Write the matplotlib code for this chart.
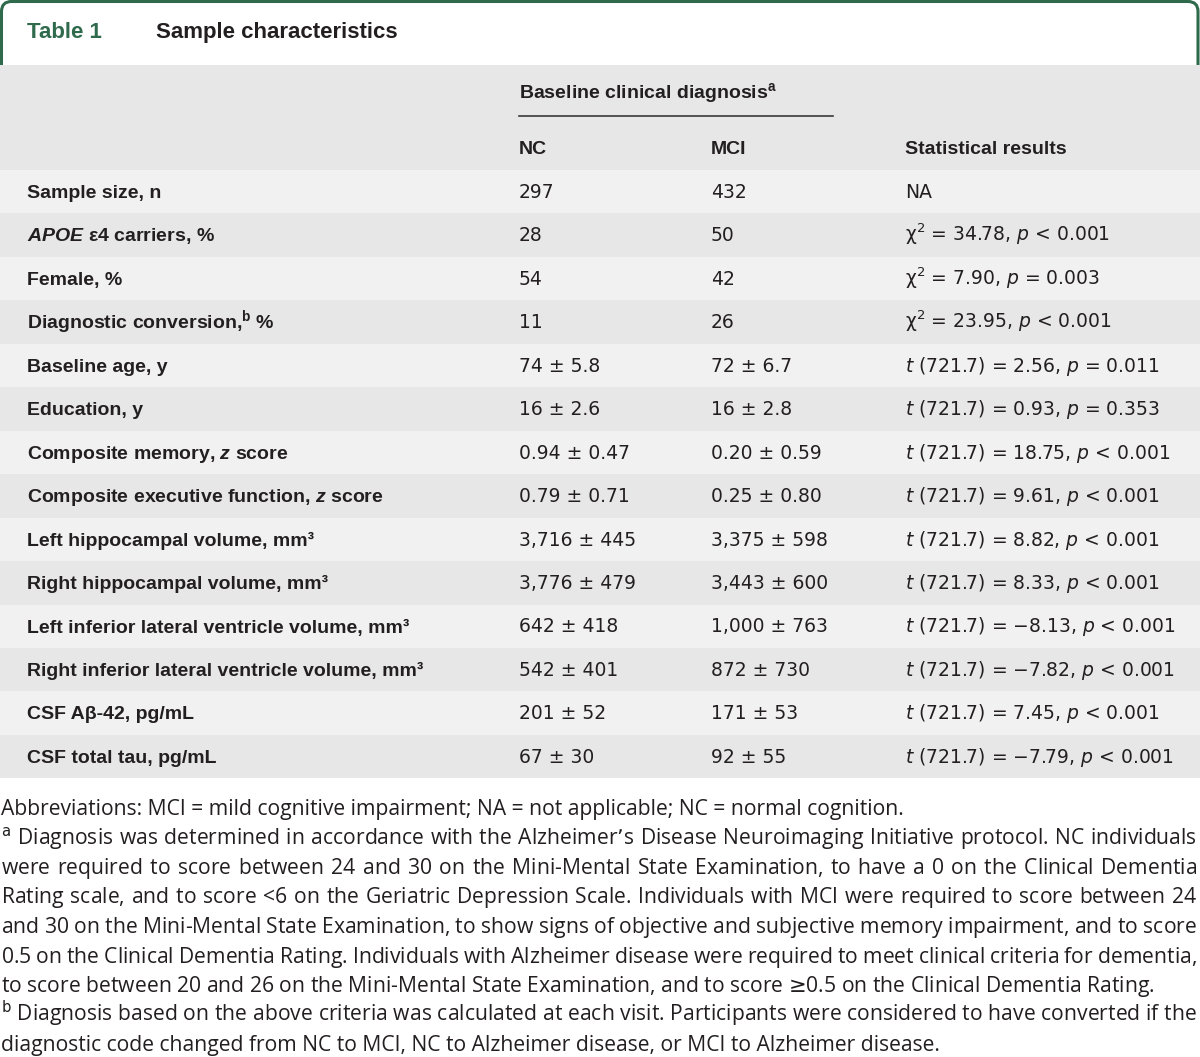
import matplotlib
matplotlib.use("Agg")
import matplotlib.pyplot as plt
from matplotlib.patches import Rectangle, FancyBboxPatch

# ---- table content (markup: *italic*, ^superscript^) ----
title_num = "Table 1"
title_text = "Sample characteristics"
group_header = "Baseline clinical diagnosis^a^"
col_headers = ["NC", "MCI", "Statistical results"]

row_labels = [
    "Sample size, n",
    "*APOE* ε4 carriers, %",
    "Female, %",
    "Diagnostic conversion,^b^ %",
    "Baseline age, y",
    "Education, y",
    "Composite memory, *z* score",
    "Composite executive function, *z* score",
    "Left hippocampal volume, mm³",
    "Right hippocampal volume, mm³",
    "Left inferior lateral ventricle volume, mm³",
    "Right inferior lateral ventricle volume, mm³",
    "CSF Aβ-42, pg/mL",
    "CSF total tau, pg/mL",
]
nc_values = ["297", "28", "54", "11", "74 ± 5.8", "16 ± 2.6", "0.94 ± 0.47",
             "0.79 ± 0.71", "3,716 ± 445", "3,776 ± 479", "642 ± 418",
             "542 ± 401", "201 ± 52", "67 ± 30"]
mci_values = ["432", "50", "42", "26", "72 ± 6.7", "16 ± 2.8", "0.20 ± 0.59",
              "0.25 ± 0.80", "3,375 ± 598", "3,443 ± 600", "1,000 ± 763",
              "872 ± 730", "171 ± 53", "92 ± 55"]
stat_results = [
    "NA",
    "χ^2^ = 34.78, *p* < 0.001",
    "χ^2^ = 7.90, *p* = 0.003",
    "χ^2^ = 23.95, *p* < 0.001",
    "*t* (721.7) = 2.56, *p* = 0.011",
    "*t* (721.7) = 0.93, *p* = 0.353",
    "*t* (721.7) = 18.75, *p* < 0.001",
    "*t* (721.7) = 9.61, *p* < 0.001",
    "*t* (721.7) = 8.82, *p* < 0.001",
    "*t* (721.7) = 8.33, *p* < 0.001",
    "*t* (721.7) = −8.13, *p* < 0.001",
    "*t* (721.7) = −7.82, *p* < 0.001",
    "*t* (721.7) = 7.45, *p* < 0.001",
    "*t* (721.7) = −7.79, *p* < 0.001",
]
footnote_lines = [
    "Abbreviations: MCI = mild cognitive impairment; NA = not applicable; NC = normal cognition.",
    "^a^ Diagnosis was determined in accordance with the Alzheimer’s Disease Neuroimaging Initiative protocol. NC individuals",
    "were required to score between 24 and 30 on the Mini-Mental State Examination, to have a 0 on the Clinical Dementia",
    "Rating scale, and to score <6 on the Geriatric Depression Scale. Individuals with MCI were required to score between 24",
    "and 30 on the Mini-Mental State Examination, to show signs of objective and subjective memory impairment, and to score",
    "0.5 on the Clinical Dementia Rating. Individuals with Alzheimer disease were required to meet clinical criteria for dementia,",
    "to score between 20 and 26 on the Mini-Mental State Examination, and to score ≥0.5 on the Clinical Dementia Rating.",
    "^b^ Diagnosis based on the above criteria was calculated at each visit. Participants were considered to have converted if the",
    "diagnostic code changed from NC to MCI, NC to Alzheimer disease, or MCI to Alzheimer disease.",
]
footnote_justify = [False, True, True, True, True, True, False, True, False]

# ---- styles ----
W, H = 1200, 1057
GREEN = "#2e6a4b"
INK = "#231f20"
DARK_ROW = "#e6e7e6"
LIGHT_ROW = "#f1f1f1"
LABEL_FONT = "Liberation Sans"
VALUE_FONT = "DejaVu Sans"
NOTE_FONT = "Open Sans"

# math pieces inside the bold labels use Liberation Sans too
plt.rcParams["mathtext.rm"] = "Liberation Sans:bold"
plt.rcParams["mathtext.it"] = "Liberation Sans:italic:bold"
plt.rcParams["mathtext.bf"] = "Liberation Sans:bold"
plt.rcParams["mathtext.sf"] = "Liberation Sans:bold"
plt.rcParams["mathtext.cal"] = "Liberation Sans:bold"
plt.rcParams["mathtext.tt"] = "Liberation Sans:bold"

fig = plt.figure(figsize=(W / 100, H / 100), dpi=100)
ax = fig.add_axes([0, 0, 1, 1])
ax.set_xlim(0, W)
ax.set_ylim(H, 0)
ax.axis("off")
renderer = fig.canvas.get_renderer()


def parse(s):
    out, style, buf = [], None, ""
    for ch in s:
        if ch in "*^":
            if buf:
                out.append((buf, style))
                buf = ""
            style = None if style == ch else ch
        else:
            buf += ch
    if buf:
        out.append((buf, style))
    return out


def to_math(s):
    out = ""
    for txt, st in parse(s):
        if st == "*":
            out += "$%s$" % txt
        elif st == "^":
            out += r"$^{\mathrm{%s}}$" % txt
        else:
            # relation spacing around \geq is cancelled by the kerns
            out += txt.replace("≥", r"$\hspace{-0.2}\geq\hspace{-0.2}$")
    return out.replace("$$", "")


def cell(x, y, s, font, size, weight="normal", color=INK, mathfam="custom"):
    return ax.text(x, y, to_math(s), family=font, fontsize=size,
                   weight=weight, color=color, va="baseline", ha="left",
                   math_fontfamily=mathfam)


def width_of(s, font, size, mathfam):
    t = ax.text(0, 0, s, family=font, fontsize=size, va="baseline",
                math_fontfamily=mathfam)
    w = t.get_window_extent(renderer).width
    t.remove()
    return w


def justified(x, y, s, font, size, right, mathfam="dejavusans"):
    # one text per line; the word gaps are \hspace kerns sized to fill
    words = [to_math(w) for w in s.split(" ")]
    unit = (width_of(r"x$\hspace{20}$x", font, size, mathfam)
            - width_of(r"x$\hspace{10}$x", font, size, mathfam)) / 10
    joined0 = r"$\hspace{0}$".join(words).replace("$$", "")
    w0 = width_of(joined0, font, size, mathfam)
    g = (right - x - w0) / ((len(words) - 1) * unit)
    line = (r"$\hspace{%.5f}$" % g).join(words).replace("$$", "")
    return ax.text(x, y, line, family=font, fontsize=size, color=INK,
                   va="baseline", ha="left", math_fontfamily=mathfam)


# ---- title tab ----
ax.add_patch(FancyBboxPatch((1.5, 1.5), W - 3.5, 120,
                            boxstyle="round,pad=0,rounding_size=10",
                            fc="white", ec=GREEN, lw=2.2, zorder=0))
cell(27, 38, title_num, LABEL_FONT, 16, "bold", GREEN)
cell(156, 38, title_text, LABEL_FONT, 16, "bold", INK)

# ---- header band ----
ax.add_patch(Rectangle((0, 65), W, 105, fc=DARK_ROW, ec="none", zorder=1))
col_x = [27, 519, 711, 905]
cell(col_x[1], 98, group_header, LABEL_FONT, 14, "bold")
ax.plot([col_x[1], 833], [116, 116], color="#3a3a3a", lw=1.2, zorder=2)
for cx, name in zip(col_x[1:], col_headers):
    cell(cx, 154, name, LABEL_FONT, 14, "bold")

# ---- body rows ----
row_top = 170
row_h = 43.45
for i in range(len(row_labels)):
    y0 = row_top + i * row_h
    ax.add_patch(Rectangle((0, y0), W, row_h,
                           fc=LIGHT_ROW if i % 2 == 0 else DARK_ROW,
                           ec="none", zorder=1))
    base = y0 + 28
    cell(col_x[0], base, row_labels[i], LABEL_FONT, 14, "bold")
    cell(col_x[1], base, nc_values[i], VALUE_FONT, 13.5, mathfam="dejavusans")
    cell(col_x[2], base, mci_values[i], VALUE_FONT, 13.5, mathfam="dejavusans")
    cell(col_x[3], base, stat_results[i], VALUE_FONT, 13.5,
         mathfam="dejavusans")

# ---- footnotes ----
note_size = 15.25
note_top = 815
note_step = 29.5
for j, line in enumerate(footnote_lines):
    y = note_top + j * note_step
    if footnote_justify[j]:
        justified(1, y, line, NOTE_FONT, note_size, 1197)
    else:
        cell(1, y, line, NOTE_FONT, note_size, mathfam="dejavusans")

fig.savefig("out.png", dpi=100, facecolor="white")
